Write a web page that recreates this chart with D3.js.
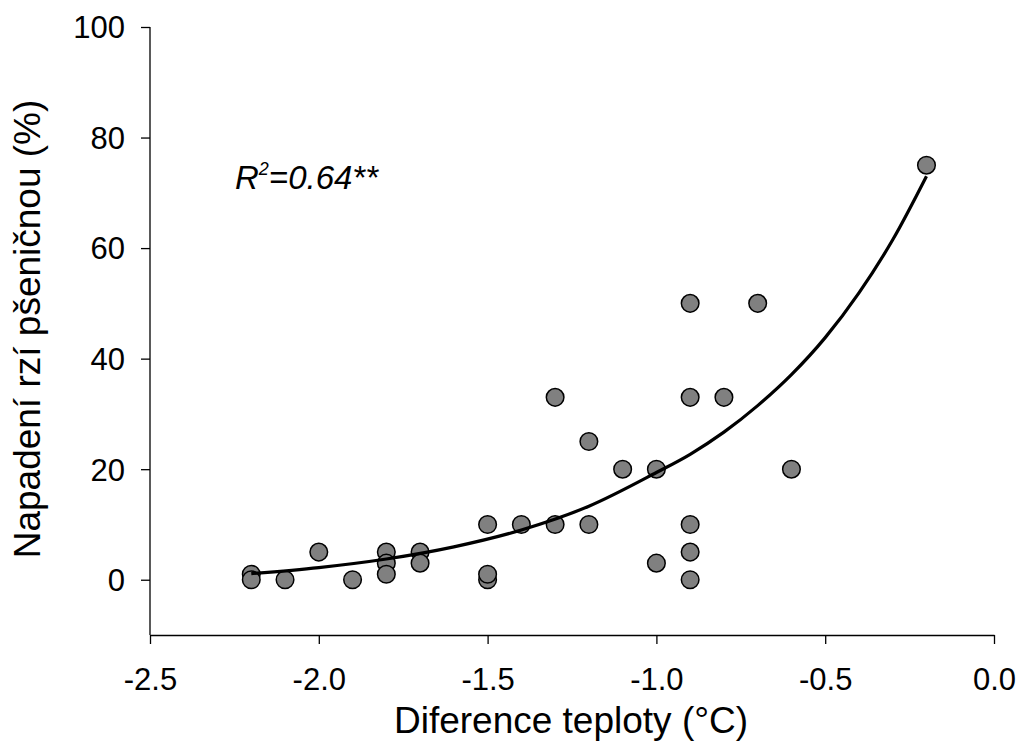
<!DOCTYPE html>
<html>
<head>
<meta charset="utf-8">
<script src="https://cdn.jsdelivr.net/npm/d3@7"></script>
<style>
  html, body { margin: 0; padding: 0; background: #fff; }
  svg { display: block; }
  text { font-family: "Liberation Sans", Arial, Helvetica, sans-serif; fill: #000; }
</style>
</head>
<body>
<svg id="chart" width="1019" height="742"></svg>
<script>
// ---- data ----
const pointX = [-2.2, -2.2, -2.1, -2.0, -1.9, -1.8, -1.8, -1.8, -1.7, -1.7,
                -1.5, -1.5, -1.5, -1.4, -1.3, -1.3, -1.2, -1.2, -1.1, -1.0,
                -1.0, -0.9, -0.9, -0.9, -0.9, -0.9, -0.8, -0.7, -0.6, -0.2];
const pointY = [1, 0, 0, 5, 0, 5, 3, 1, 5, 3,
                10, 0, 1, 10, 33, 10, 25, 10, 20, 20,
                3, 50, 33, 10, 5, 0, 33, 50, 20, 75];

// fitted exponential curve
const curveX = [-2.2, -2.0, -1.8, -1.6, -1.4, -1.2, -1.0, -0.9, -0.8, -0.7, -0.6, -0.5, -0.4, -0.3, -0.2];
const curveY = [1.1, 2.2, 3.75, 5.95, 9.0, 13.3, 19.4, 22.7, 26.7, 31.5, 37.1, 43.8, 51.9, 61.5, 73.0];

const xTicks = [-2.5, -2.0, -1.5, -1.0, -0.5, 0.0];
const yTicks = [0, 20, 40, 60, 80, 100];
const xTitle = "Diference teploty (°C)";
const yTitle = "Napadení rzí pšeničnou (%)";

// ---- layout ----
const svg = d3.select("#chart");
const mLeft = 150, mRight = 994, mTop = 27, mBottom = 635;

const x = d3.scaleLinear().domain([-2.5, 0]).range([mLeft, mRight]);
const y = d3.scaleLinear().domain([-10, 100]).range([mBottom, mTop]);

// axes
const xAxis = d3.axisBottom(x).tickValues(xTicks).tickFormat(d3.format(".1f"))
  .tickSize(9).tickSizeOuter(0).tickPadding(24);
const yAxis = d3.axisLeft(y).tickValues(yTicks).tickFormat(d3.format("d"))
  .tickSize(9).tickSizeOuter(0).tickPadding(16);

const gx = svg.append("g").attr("transform", `translate(0,${mBottom})`).call(xAxis);
const gy = svg.append("g").attr("transform", `translate(${mLeft},0)`).call(yAxis);

[gx, gy].forEach(g => {
  g.select(".domain").attr("stroke", "#000").attr("stroke-width", 1.3);
  g.selectAll(".tick line").attr("stroke", "#000").attr("stroke-width", 1.3);
  g.selectAll(".tick text")
    .attr("font-family", '"Liberation Sans", Arial, sans-serif')
    .attr("font-size", 31).attr("fill", "#000");
});
gx.selectAll(".tick text").text(d => d3.format(".1f")(d).replace("−", "-"));
gy.selectAll(".tick text").attr("dy", "0.35em");
gy.select(".domain").attr("d", `M0,${y(100)}V${mBottom}`);

// titles
svg.append("text")
  .attr("x", 571)
  .attr("y", 733)
  .attr("text-anchor", "middle")
  .attr("font-size", 37)
  .text(xTitle);

svg.append("text")
  .attr("transform", `translate(40,329) rotate(-90)`)
  .attr("text-anchor", "middle")
  .attr("font-size", 37)
  .text(yTitle);

// points
const pts = pointX.map((d, i) => ({ x: d, y: pointY[i] }));
svg.append("g").selectAll("circle").data(pts).join("circle")
  .attr("cx", d => x(d.x))
  .attr("cy", d => y(d.y))
  .attr("r", 8.8)
  .attr("fill", "#808080")
  .attr("stroke", "#000")
  .attr("stroke-width", 1.5);

// regression curve
const cpts = curveX.map((d, i) => [d, curveY[i]]);
svg.append("path")
  .datum(cpts)
  .attr("fill", "none")
  .attr("stroke", "#000")
  .attr("stroke-width", 3.2)
  .attr("d", d3.line().x(d => x(d[0])).y(d => y(d[1])).curve(d3.curveMonotoneX));

// R² annotation
const ann = svg.append("text")
  .attr("x", 235)
  .attr("y", 189)
  .attr("font-size", 33)
  .attr("font-style", "italic");
ann.append("tspan").text("R");
ann.append("tspan").attr("font-size", 18).attr("dy", -14).text("2");
ann.append("tspan").attr("dy", 14).text("=0.64**");
</script>
</body>
</html>
